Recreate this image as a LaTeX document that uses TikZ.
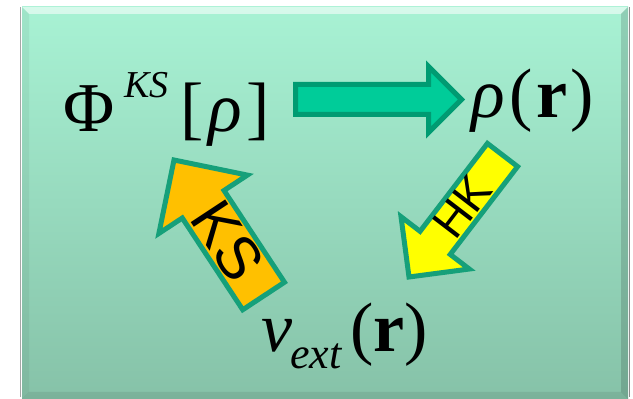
\documentclass[tikz,border=0pt]{standalone}
\usepackage{fontspec}
\setmainfont{Liberation Serif}
\setsansfont{Liberation Sans}
\usepackage{tikz}
\usetikzlibrary{calc}
\definecolor{boxtop}{HTML}{A8F2D4}
\definecolor{boxbottom}{HTML}{86C2A8}
\definecolor{mapfill}{HTML}{00CC99}
\definecolor{mapline}{HTML}{009B72}
\definecolor{hkfill}{HTML}{FFFF00}
\definecolor{ksfill}{HTML}{FFC000}
\definecolor{tealline}{HTML}{16A07A}
\tikzset{
every picture/.style={line join=round},
formula/.style={inner sep=0pt, font=\fontsize{70}{80}\selectfont},
arrow label/.style={inner sep=0pt, font=\sffamily},
block/.style={line width=5pt, line join=miter, miter limit=4},
map block/.style={block, draw=mapline, fill=mapfill},
hk block/.style={block, draw=tealline, fill=hkfill},
ks block/.style={block, draw=tealline, fill=ksfill}
}
% style, tail, tip, shaft half width, head half width
\newcommand\blockarrow[5]{%
  \path ($(#3)!#5!(#2)$) coordinate (neck);
  \draw[#1] ($(#2)!#4!90:(#3)$) -- ($(neck)!#4!-90:(#2)$) -- ($(neck)!#5!-90:(#2)$) -- (#3)
    -- ($(neck)!#5!90:(#2)$) -- ($(neck)!#4!90:(#2)$) -- ($(#2)!#4!-90:(#3)$) -- cycle;
}

\begin{document}
\begin{tikzpicture}[x=1pt,y=1pt]
\useasboundingbox (0,0) rectangle (633,399);
\fill[white] (0,0) rectangle (633,399);
\draw[black!35, line width=1.5pt] (20.5,2) -- (20.5,392);
\draw[black!45, line width=1.5pt] (629.5,2) -- (629.5,392);
\shade[top color=boxtop, bottom color=boxbottom] (22,0) rectangle (628,392);
\fill[white, opacity=.55] (22,392) -- (628,392) -- (621,385) -- (29,385) -- cycle;
\fill[black, opacity=.05] (22,0) -- (29,7) -- (29,385) -- (22,392) -- cycle;
\fill[black, opacity=.14] (628,0) -- (621,7) -- (621,385) -- (628,392) -- cycle;
\fill[black, opacity=.08] (22,0) -- (628,0) -- (621,7) -- (29,7) -- cycle;

\node[formula, anchor=base west] (phi) at (63,267) {Φ\hspace{10pt}\raisebox{34pt}{\fontsize{38}{40}\selectfont\itshape KS}\hspace{12pt}[\hspace{4pt}\textit{ρ}\hspace{5pt}]};
\node[formula, anchor=base west] (rho) at (471,281) {\textit{ρ}\hspace{5pt}(\hspace{3pt}\textbf{r}\hspace{3pt})};
\node[formula, anchor=base west] (vext) at (261,47) {\textit{v}\hspace{-2pt}\raisebox{-17pt}{\fontsize{44}{46}\selectfont\itshape ext}\hspace{9pt}(\textbf{r})};

\coordinate (mapTail) at (295.5,299.5);
\coordinate (mapTip) at (461.5,299.5);
\coordinate (hkTail) at (502.5,244);
\coordinate (hkTip) at (409,122);
\coordinate (ksTail) at (263.6,103);
\coordinate (ksTip) at (174,239);
\blockarrow{map block}{mapTail}{mapTip}{15pt}{33pt}
\blockarrow{hk block}{hkTail}{hkTip}{19pt}{43pt}
\blockarrow{ks block}{ksTail}{ksTip}{25pt}{53pt}

\node[arrow label, font=\sffamily\fontsize{46}{50}\selectfont, rotate=52.6] (hk) at (462,192) {HK};
\node[arrow label, font=\sffamily\fontsize{60}{64}\selectfont, rotate=-56.6] (ks) at (228,158) {KS};
\end{tikzpicture}
\end{document}
